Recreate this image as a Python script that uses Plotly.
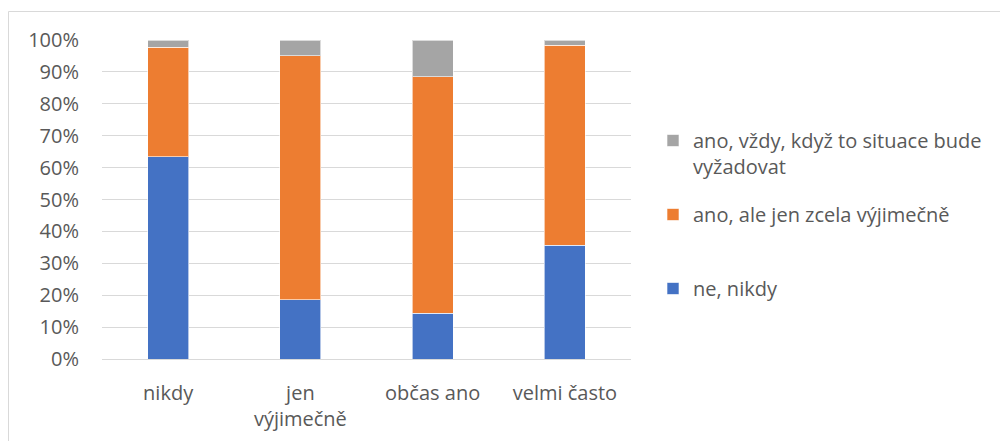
import plotly.graph_objs as go

categories = ['nikdy', 'jen<br>výjimečně', 'občas ano', 'velmi často']

ne_nikdy = [0.634, 0.185, 0.144, 0.357]
ano_vyjimecne = [0.343, 0.766, 0.741, 0.626]
ano_vzdy = [0.023, 0.049, 0.115, 0.017]

series = [
    ('ne, nikdy', ne_nikdy, '#4472C4', 3),
    ('ano, ale jen zcela výjimečně<br> ', ano_vyjimecne, '#ED7D31', 2),
    ('ano, vždy, když to situace bude<br>vyžadovat', ano_vzdy, '#A5A5A5', 1),
]

FONT = 'Open Sans'
OFF = 8  # page body margin

fig = go.Figure()
for i, (name, vals, col, rank) in enumerate(series):
    fig.add_trace(go.Bar(
        x=categories, y=vals, name=name, legendgroup=str(i), legendrank=rank,
        marker=dict(color=col, line=dict(color='rgba(255,255,255,0.6)', width=1))))

# plot area in screen pixels: x 102..631, y 40..359
L, R, T, B = 102 - OFF, 631 - OFF, 40 - OFF, 359 - OFF
W, H = 1008, 441
pw, ph = R - L, B - T

def px(x):
    return (x - OFF - L) / pw

def py(y):
    return (B - (y - OFF)) / ph

fig.update_layout(
    width=W, height=H,
    margin=dict(l=L, r=W - R, t=T, b=H - B, pad=0),
    barmode='stack', bargap=0.69,
    paper_bgcolor='white', plot_bgcolor='white',
    font=dict(family=FONT, size=20, color='#595959'),
    legend=dict(x=px(653), y=py(121), xanchor='left', yanchor='top',
                traceorder='grouped', tracegroupgap=19, valign='top',
                font=dict(size=20, color='#595959'), bgcolor='rgba(0,0,0,0)'),
    shapes=[
        dict(type='line', xref='paper', yref='paper', x0=px(8.5), x1=px(1020),
             y0=py(11.5), y1=py(11.5), line=dict(color='#D9D9D9', width=1)),
        dict(type='line', xref='paper', yref='paper', x0=px(8.5), x1=px(8.5),
             y0=py(11.5), y1=py(460), line=dict(color='#D9D9D9', width=1)),
    ],
)
fig.update_yaxes(range=[0, 1], tickformat='.0%', dtick=0.1,
                 gridcolor='#D9D9D9', gridwidth=1, zeroline=False,
                 ticks='outside', ticklen=18, tickcolor='rgba(0,0,0,0)',
                 tickfont=dict(size=20, color='#595959'))
fig.update_xaxes(showline=True, linecolor='#D9D9D9', linewidth=1,
                 ticks='outside', ticklen=16, tickcolor='rgba(0,0,0,0)',
                 tickfont=dict(size=20, color='#595959'))

fig.write_html("out.html")
